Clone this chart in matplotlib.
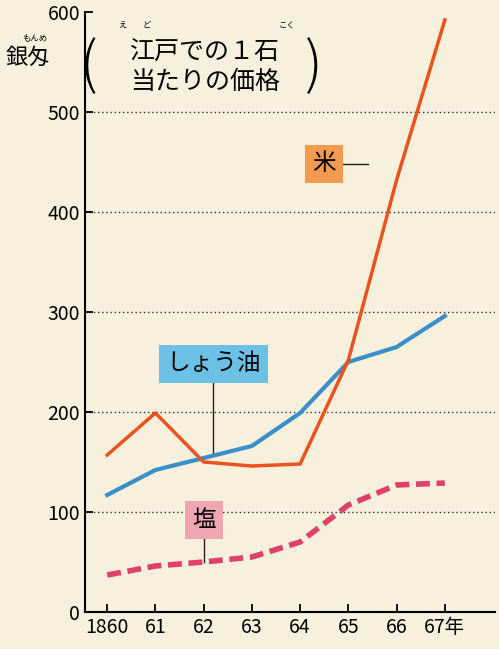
import matplotlib
matplotlib.use("Agg")
import matplotlib.pyplot as plt

plt.rcParams['font.family'] = ['Noto Sans CJK JP', 'DejaVu Sans']

years = [1860, 1861, 1862, 1863, 1864, 1865, 1866, 1867]
xlabels = ["1860", "61", "62", "63", "64", "65", "66", "67年"]
rice = [157, 199, 150, 146, 148, 252, 432, 592]
soy = [117, 142, 154, 166, 199, 250, 265, 296]
salt = [37, 46, 50, 55, 70, 107, 127, 129]
yticks = [0, 100, 200, 300, 400, 500, 600]

bg = "#f6f0dc"
fig = plt.figure(figsize=(4.99, 6.49), dpi=100, facecolor=bg)
ax = fig.add_axes([85/499, 37/649, 410/499, 600/649], facecolor=bg)
ax.set_xlim(1859.54, 1868.04)
ax.set_ylim(0, 600)
for s in ["top", "right"]:
    ax.spines[s].set_visible(False)
for s in ["left", "bottom"]:
    ax.spines[s].set_linewidth(1.5)
ax.set_yticks(yticks)
ax.set_yticklabels([str(v) for v in yticks], fontsize=14)
ax.set_xticks(years)
ax.set_xticklabels(xlabels, fontsize=14)
ax.tick_params(direction="in", length=6, width=1.3)
for v in yticks[1:-1]:
    ax.axhline(v, color="#333", lw=1, ls=(0, (1, 2)), zorder=0)

ax.plot(years, soy, color="#3a8fc8", lw=3, zorder=3)
ax.plot(years, rice, color="#e8531f", lw=2.5, zorder=4)
ax.plot(years, salt, color="#e0406a", lw=4, ls=(0, (2.5, 1.2)), zorder=3)

def label(x, y, text, fc, lx, ly):
    ax.plot([x, lx], [y, ly], color="#222", lw=1, zorder=2)
    ax.text(x, y, text, fontsize=17, ha="center", va="center", zorder=5,
            bbox=dict(boxstyle="square,pad=0.3", fc=fc, ec="none"))

label(1864.5, 448, "米", "#f29a4f", 1865.4, 448)
label(1862.2, 248, "しょう油", "#6cc0e6", 1862.2, 158)
label(1862.0, 92, "塩", "#f0a5b5", 1862.0, 50)

fig.text(6/499, 1 - 57/649, "銀匁", fontsize=16, va="center")
fig.text(22/499, 1 - 38/649, "もんめ", fontsize=6, va="center")
fig.text(205/499, 1 - 67/649, "江戸での１石\n当たりの価格", fontsize=18, ha="center",
         va="center", linespacing=1.15)
fig.text(80/499, 1 - 67/649, "(", fontsize=40, va="center", fontweight="light")
fig.text(305/499, 1 - 67/649, ")", fontsize=40, va="center", fontweight="light")
fig.text(122/499, 1 - 28/649, "え", fontsize=6, ha="center")
fig.text(147/499, 1 - 28/649, "ど", fontsize=6, ha="center")
fig.text(287/499, 1 - 28/649, "こく", fontsize=6, ha="center")

fig.savefig("out.png", dpi=100, facecolor=bg)
